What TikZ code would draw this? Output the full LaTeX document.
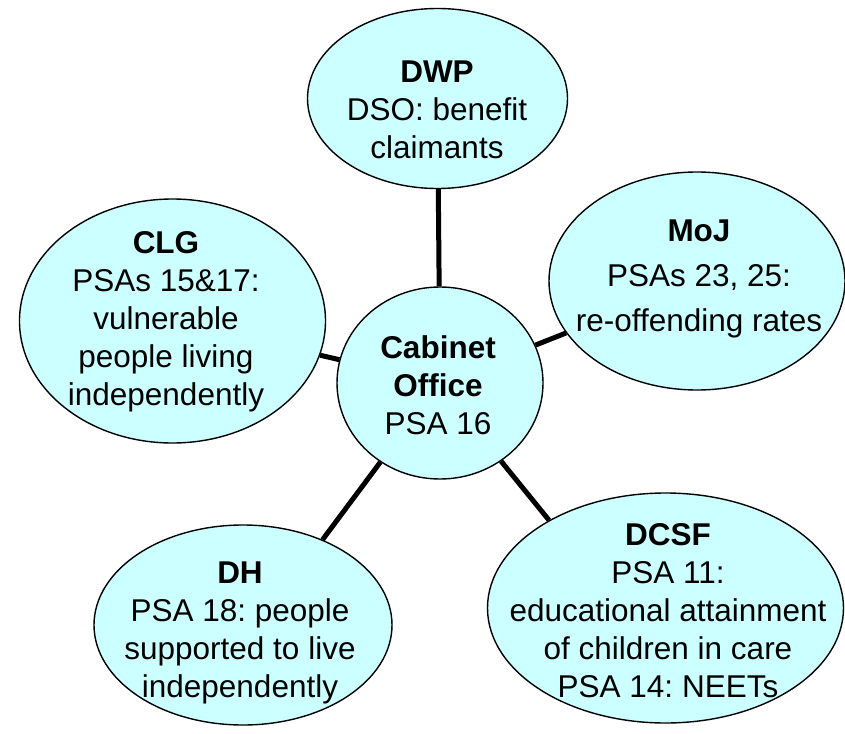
\documentclass[tikz,border=0pt]{standalone}
\usepackage{fontspec}
\setmainfont{Liberation Sans}
\usetikzlibrary{shapes.geometric}
\definecolor{bubblefill}{RGB}{204,255,255}
\frenchspacing
\begin{document}
\begin{tikzpicture}[x=1pt,y=1pt,
  bubble/.style={ellipse, draw=black, line width=1.4pt, fill=bubblefill, inner sep=0pt},
  txt/.style={align=center, font=\fontsize{31.5}{38}\selectfont, inner sep=0pt},
  link/.style={line width=5pt}]
\useasboundingbox (0,0) rectangle (845,-733);
% bubbles
\node[bubble, minimum width=260pt, minimum height=180pt] (dwp) at (437.5,-98.5) {};
\node[bubble, minimum width=306pt, minimum height=244pt] (clg) at (172.5,-321) {};
\node[bubble, minimum width=296pt, minimum height=218pt] (moj) at (697,-281) {};
\node[bubble, minimum width=206pt, minimum height=192pt] (cab) at (440,-383) {};
\node[bubble, minimum width=298pt, minimum height=200pt] (dh) at (243,-625) {};
\node[bubble, minimum width=356pt, minimum height=230pt] (dcsf) at (665.5,-608) {};
% connectors
\draw[link] (cab) -- (dwp);
\draw[link] (cab) -- (clg);
\draw[link] (cab) -- (moj);
\draw[link] (cab.-127) -- (dh.47);
\draw[link] (cab.-52) -- (dcsf.143);
% texts
\node[txt] (dwpt) at (437,-110) {\textbf{DWP}\\DSO: benefit\\claimants};
\node[txt] (clgt) at (166,-322) {\textbf{CLG}\\PSAs 15\&17:\\vulnerable\\people living\\independently};
\node[txt] (mojt) at (699,-279) {\textbf{MoJ}\\[7pt]PSAs 23, 25:\\[7pt]re-offending rates};
\node[txt] (cabt) at (438,-385) {\textbf{Cabinet}\\\textbf{Office}\\PSA 16};
\node[txt] (dht) at (240,-633) {\textbf{DH}\\PSA 18: people\\supported to live\\independently};
\node[txt] (dcsft) at (668,-611) {\textbf{DCSF}\\PSA 11:\\educational attainment\\of children in care\\PSA 14: NEETs};
\end{tikzpicture}
\end{document}
